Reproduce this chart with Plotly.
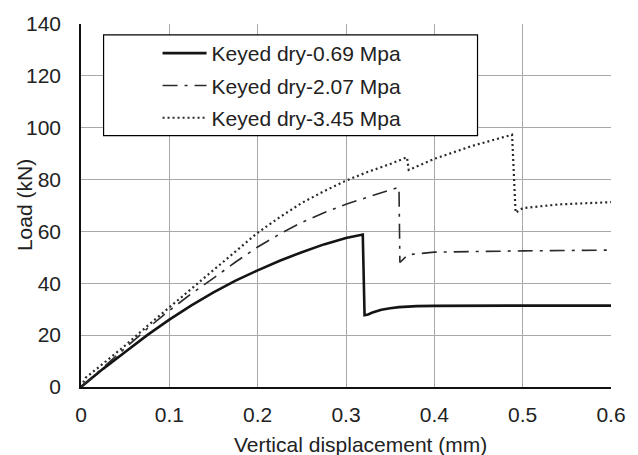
import plotly.graph_objects as go

# Data
disp_069 = [0, 0.0125, 0.025, 0.05, 0.075, 0.1, 0.125, 0.15, 0.175, 0.2, 0.225, 0.25, 0.275, 0.3, 0.319,
            0.321, 0.325, 0.33, 0.34, 0.35, 0.36, 0.38, 0.4, 0.5, 0.6]
load_069 = [0, 3.5, 7, 13.5, 20, 26, 31.5, 36.5, 41, 45, 48.7, 52, 55, 57.5, 58.8,
            27.7, 28, 28.7, 29.8, 30.4, 30.8, 31.2, 31.3, 31.4, 31.4]

disp_207 = [0, 0.025, 0.05, 0.075, 0.1, 0.125, 0.15, 0.175, 0.2, 0.225, 0.25, 0.275, 0.3, 0.325, 0.35, 0.36,
            0.361, 0.37, 0.4, 0.5, 0.6]
load_207 = [0, 7.5, 15, 22.5, 29.5, 36, 42, 48.2, 54, 59, 63.5, 67.2, 70.5, 73.4, 76, 77,
            48, 51, 52, 52.5, 52.8]

disp_345 = [0, 0.005, 0.025, 0.05, 0.075, 0.1, 0.125, 0.15, 0.175, 0.2, 0.225, 0.25, 0.275, 0.3, 0.325, 0.35, 0.369,
            0.371, 0.4, 0.443, 0.488, 0.492, 0.5, 0.54, 0.6]
load_345 = [0, 3.5, 9, 16, 23.5, 30.7, 38, 45, 52.5, 59.5, 65.5, 71, 75.5, 79.6, 83, 86, 88.6,
            83.7, 88, 93, 97.3, 67.2, 69, 70.4, 71.3]

series_names = ["Keyed dry-0.69 Mpa", "Keyed dry-2.07 Mpa", "Keyed dry-3.45 Mpa"]
x_ticks = [0, 0.1, 0.2, 0.3, 0.4, 0.5, 0.6]
y_ticks = [0, 20, 40, 60, 80, 100, 120, 140]

FONT = "Liberation Sans, Arial, sans-serif"

fig = go.Figure()
fig.add_trace(go.Scatter(x=disp_069, y=load_069, mode="lines", name=series_names[0], legendgroup="a",
                         line=dict(color="#141414", width=2.6)))
fig.add_trace(go.Scatter(x=disp_207, y=load_207, mode="lines", name=series_names[1], legendgroup="b",
                         line=dict(color="#2a2a2a", width=1.6, dash="15px,7px,3px,7px")))
fig.add_trace(go.Scatter(x=disp_345, y=load_345, mode="lines", name=series_names[2], legendgroup="c",
                         line=dict(color="#2a2a2a", width=2.2, dash="2px,3px")))

# legend frame
fig.add_shape(type="rect", xref="paper", yref="paper",
              x0=(104 - 81) / 540, x1=(485 - 81) / 540,
              y0=(387 - 135) / 364, y1=(387 - 34) / 364,
              line=dict(color="black", width=1.2), fillcolor="white", layer="above")

fig.add_annotation(text="Load (kN)", xref="paper", yref="paper",
                   x=(23.5 - 81) / 540, y=0.5, textangle=-90, showarrow=False,
                   xanchor="center", yanchor="middle",
                   font=dict(family=FONT, size=21, color="#222"))
fig.add_annotation(text="Vertical displacement (mm)", xref="paper", yref="paper",
                   x=(366 - 81) / 540, y=(387 - 445) / 364, showarrow=False,
                   xanchor="center", yanchor="middle",
                   font=dict(family=FONT, size=21, color="#222"))

fig.update_layout(
    width=638, height=455,
    margin=dict(l=81, r=17, t=23, b=68),
    paper_bgcolor="white", plot_bgcolor="white",
    font=dict(family=FONT, size=21, color="#222"),
    showlegend=True,
    legend=dict(x=(159 - 81) / 540, y=(387 - 32) / 364, xanchor="left", yanchor="top",
                bgcolor="rgba(0,0,0,0)", borderwidth=0, tracegroupgap=2,
                font=dict(family=FONT, size=21, color="#222"),
                itemwidth=44),
    xaxis=dict(range=[0, 0.6], tickvals=x_ticks, ticktext=[str(v) for v in x_ticks],
               showgrid=True, gridcolor="#a8a8a8", gridwidth=1.2,
               showline=True, linecolor="#111", linewidth=1.6, zeroline=False,
               ticks="", ticklabelstandoff=8, tickfont=dict(size=21)),
    yaxis=dict(range=[0, 140], tickvals=y_ticks,
               showgrid=True, gridcolor="#a8a8a8", gridwidth=1.2,
               showline=True, linecolor="#111", linewidth=1.6, zeroline=False,
               ticks="", ticklabelstandoff=14, tickfont=dict(size=21)),
)

fig.write_html("out.html")
